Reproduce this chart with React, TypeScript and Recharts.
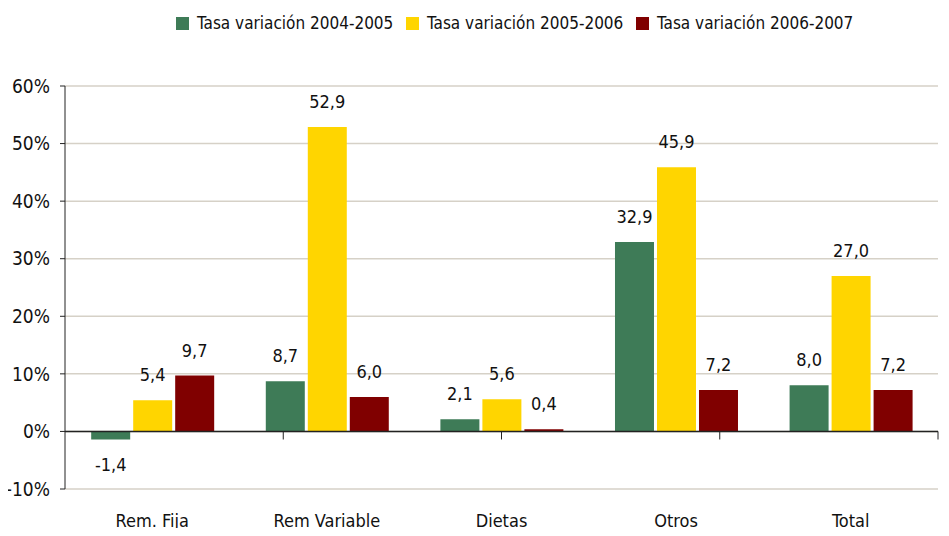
import React from 'react';
import { BarChart, Bar, XAxis, YAxis, CartesianGrid, Legend, LabelList, ReferenceLine } from 'recharts';

const categories = ['Rem. Fija', 'Rem Variable', 'Dietas', 'Otros', 'Total'];
const tasa0405 = [-1.4, 8.7, 2.1, 32.9, 8.0];
const tasa0506 = [5.4, 52.9, 5.6, 45.9, 27.0];
const tasa0607 = [9.7, 6.0, 0.4, 7.2, 7.2];
const yTicks = [-10, 0, 10, 20, 30, 40, 50, 60];
const boundaries = [1, 2, 3, 4, 5];

const series = [
  { key: 'a', name: 'Tasa variación 2004-2005', color: '#3e7b57' },
  { key: 'b', name: 'Tasa variación 2005-2006', color: '#ffd500' },
  { key: 'c', name: 'Tasa variación 2006-2007', color: '#800000' },
];

const FONT = '"Liberation Sans Narrow", "Arial Narrow", "DejaVu Sans Condensed", sans-serif';

const chartData = categories.map((name, i) => ({
  name,
  a: tasa0405[i],
  b: tasa0506[i],
  c: tasa0607[i],
}));

const fmt = (v: any) => Number(v).toFixed(1).replace('.', ',');

function LegendContent() {
  return (
    <div style={{ height: 80, boxSizing: 'border-box', paddingTop: 7, paddingLeft: 176, display: 'flex', fontFamily: FONT }}>
      {series.map(s => (
        <div key={s.key} style={{ display: 'flex', alignItems: 'center', height: 20, width: 230, flexShrink: 0 }}>
          <svg width={13} height={13} style={{ marginRight: 8, flexShrink: 0 }}>
            <rect width={13} height={13} fill={s.color} />
          </svg>
          <span style={{ fontSize: 17, color: '#111', whiteSpace: 'nowrap' }}>{s.name}</span>
        </div>
      ))}
    </div>
  );
}

export default function App() {
  return (
    <div style={{ margin: -8, width: 949, height: 536, background: '#fff' }}>
      <BarChart
        width={949}
        height={536}
        data={chartData}
        margin={{ top: 6, right: 11, left: 0, bottom: 0 }}
        barCategoryGap="15%"
        barGap={3}
      >
        <CartesianGrid vertical={false} stroke="#d6d1c7" strokeWidth={1.5} />
        <Legend verticalAlign="top" content={<LegendContent />} />
        <XAxis
          dataKey="name"
          axisLine={false}
          tickLine={false}
          tickSize={0}
          tickMargin={25}
          height={47}
          tick={{ fill: '#111', fontSize: 18, fontFamily: FONT }}
        />
        <XAxis xAxisId="n" type="number" domain={[0, 5]} hide />
        <YAxis
          width={65}
          domain={[-10, 60]}
          ticks={yTicks}
          tickFormatter={v => `${v}%`}
          axisLine={{ stroke: '#222' }}
          tickLine={{ stroke: '#222' }}
          tickSize={5}
          tickMargin={10}
          tick={{ fill: '#111', fontSize: 19, fontFamily: FONT }}
          interval={0}
        />
        {series.map(s => (
          <Bar key={s.key} dataKey={s.key} name={s.name} fill={s.color} isAnimationActive={false}>
            <LabelList
              dataKey={s.key}
              position="top"
              offset={19}
              formatter={fmt}
              style={{ fill: '#111', fontSize: 18, fontFamily: FONT }}
            />
          </Bar>
        ))}
        <ReferenceLine y={0} stroke="#222" strokeWidth={1.5} />
        {boundaries.map(b => (
          <ReferenceLine
            key={b}
            xAxisId="n"
            segment={[{ x: b, y: 0 }, { x: b, y: -1.4 }]}
            stroke="#222"
          />
        ))}
      </BarChart>
    </div>
  );
}
